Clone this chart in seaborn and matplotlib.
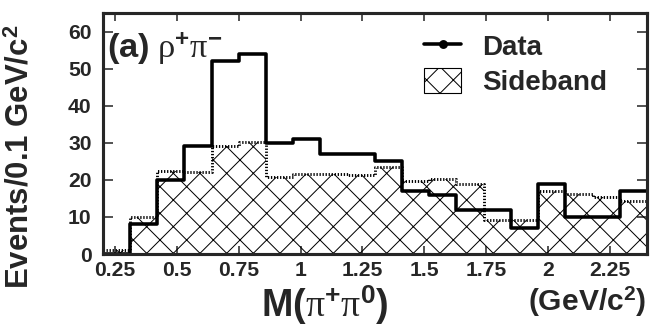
import numpy as np
import pandas as pd
import matplotlib
matplotlib.use("Agg")
import matplotlib.pyplot as plt
import seaborn as sns
from matplotlib.lines import Line2D
from matplotlib.patches import Patch

# Invariant-mass bins (GeV/c^2) and per-bin event counts
bin_edges = [0.20, 0.31, 0.42, 0.53, 0.64, 0.75, 0.86, 0.97, 1.08, 1.19, 1.30,
             1.41, 1.52, 1.63, 1.74, 1.85, 1.96, 2.07, 2.18, 2.29, 2.40]
data_counts = [0, 8, 20, 29, 52, 54, 30, 31, 27, 27,
               25, 17, 16, 12, 12, 7, 19, 10, 10, 17]
sideband_counts = [1, 10, 22.4, 22.2, 29, 30.3, 20.8, 21.6, 21.6, 21.3,
                   23.5, 19.7, 20.3, 18.8, 9.3, 9.3, 17, 16.1, 15.4, 14.4]
x_ticks = [0.25, 0.5, 0.75, 1.0, 1.25, 1.5, 1.75, 2.0, 2.25]
x_tick_labels = ["0.25", "0.5", "0.75", "1", "1.25", "1.5", "1.75", "2", "2.25"]
y_ticks = [0, 10, 20, 30, 40, 50, 60]

centers = [(a + b) / 2 for a, b in zip(bin_edges[:-1], bin_edges[1:])]
df = pd.DataFrame({"mass": centers, "data": data_counts, "sideband": sideband_counts})

DPI = 160
sns.set_style("ticks")
plt.rcParams["font.family"] = ["Liberation Sans", "DejaVu Sans"]
plt.rcParams["font.weight"] = "bold"
plt.rcParams["mathtext.fontset"] = "custom"
plt.rcParams["mathtext.rm"] = "Liberation Serif:weight=normal"
plt.rcParams["mathtext.it"] = "Liberation Serif:italic:weight=normal"
plt.rcParams["mathtext.bf"] = "Liberation Sans:bold"
plt.rcParams["mathtext.sf"] = "Liberation Sans:weight=normal"
plt.rcParams["hatch.linewidth"] = 0.45

fig = plt.figure(figsize=(650 / DPI, 330 / DPI), dpi=DPI)
ax = fig.add_axes([102.7 / 650, 1 - 254 / 330, 544.3 / 650, 241 / 330])

# Sideband: hatched area plus dotted outline
sns.histplot(data=df, x="mass", weights="sideband", bins=bin_edges,
             element="step", fill=True, color="black", facecolor="none",
             edgecolor="black", hatch="xx", linewidth=0, ax=ax)
sns.histplot(data=df, x="mass", weights="sideband", bins=bin_edges,
             element="step", fill=False, color="black", linewidth=1.3,
             linestyle=(0, (0.45, 0.6)), ax=ax)
# Data: solid step line
sns.histplot(data=df, x="mass", weights="data", bins=bin_edges,
             element="step", fill=False, color="black", linewidth=1.6, ax=ax)

ax.set_xlim(0.2, 2.4)
ax.set_ylim(0, 65)
ax.set_xticks(x_ticks)
ax.set_xticklabels(x_tick_labels)
ax.set_yticks(y_ticks)
ax.set_xlabel("")
ax.set_ylabel("")
ax.tick_params(axis="both", which="major", direction="in", top=True, right=True,
               width=0.7, labelsize=9.5)
ax.tick_params(axis="x", length=3.6, pad=3)
ax.tick_params(axis="y", length=4.5, pad=5)
for lbl in ax.get_xticklabels() + ax.get_yticklabels():
    lbl.set_fontweight("bold")
for sp in ax.spines.values():
    sp.set_linewidth(1.4)
    sp.set_visible(True)

ax.text(0.008, 0.925, r"$\mathbf{(a)}\ \mathrm{\rho}^{\mathbf{+}}\mathrm{\pi}^{\mathbf{-}}$",
        transform=ax.transAxes, ha="left", va="top", fontsize=15.5)

handles = [Line2D([0], [0], color="black", lw=1.6, marker="o", markersize=3),
           Patch(facecolor="white", edgecolor="black", hatch="xx", linewidth=0.5)]
ax.legend(handles, ["Data", "Sideband"], loc="upper left",
          bbox_to_anchor=(0.59, 0.915), frameon=False,
          handlelength=1.35, handleheight=1.0, handletextpad=0.75,
          labelspacing=0.25, borderpad=0, borderaxespad=0,
          prop={"weight": "bold", "size": 12.5})

fig.text(21 / 650, 1 - 157 / 330, r"Events/0.1 GeV/c$^{\mathbf{2}}$",
         rotation=90, ha="center", va="center", fontsize=14, fontweight="bold")
fig.text(325 / 650, 1 - 305 / 330,
         r"$\mathbf{M(}\mathrm{\pi}^{\mathbf{+}}\mathrm{\pi}^{\mathbf{0}}\mathbf{)}$",
         ha="center", va="center", fontsize=17)
fig.text(587 / 650, 1 - 302 / 330, r"(GeV/c$^{\mathbf{2}}$)",
         ha="center", va="center", fontsize=13.5, fontweight="bold")

fig.savefig("out.png", dpi=DPI)
